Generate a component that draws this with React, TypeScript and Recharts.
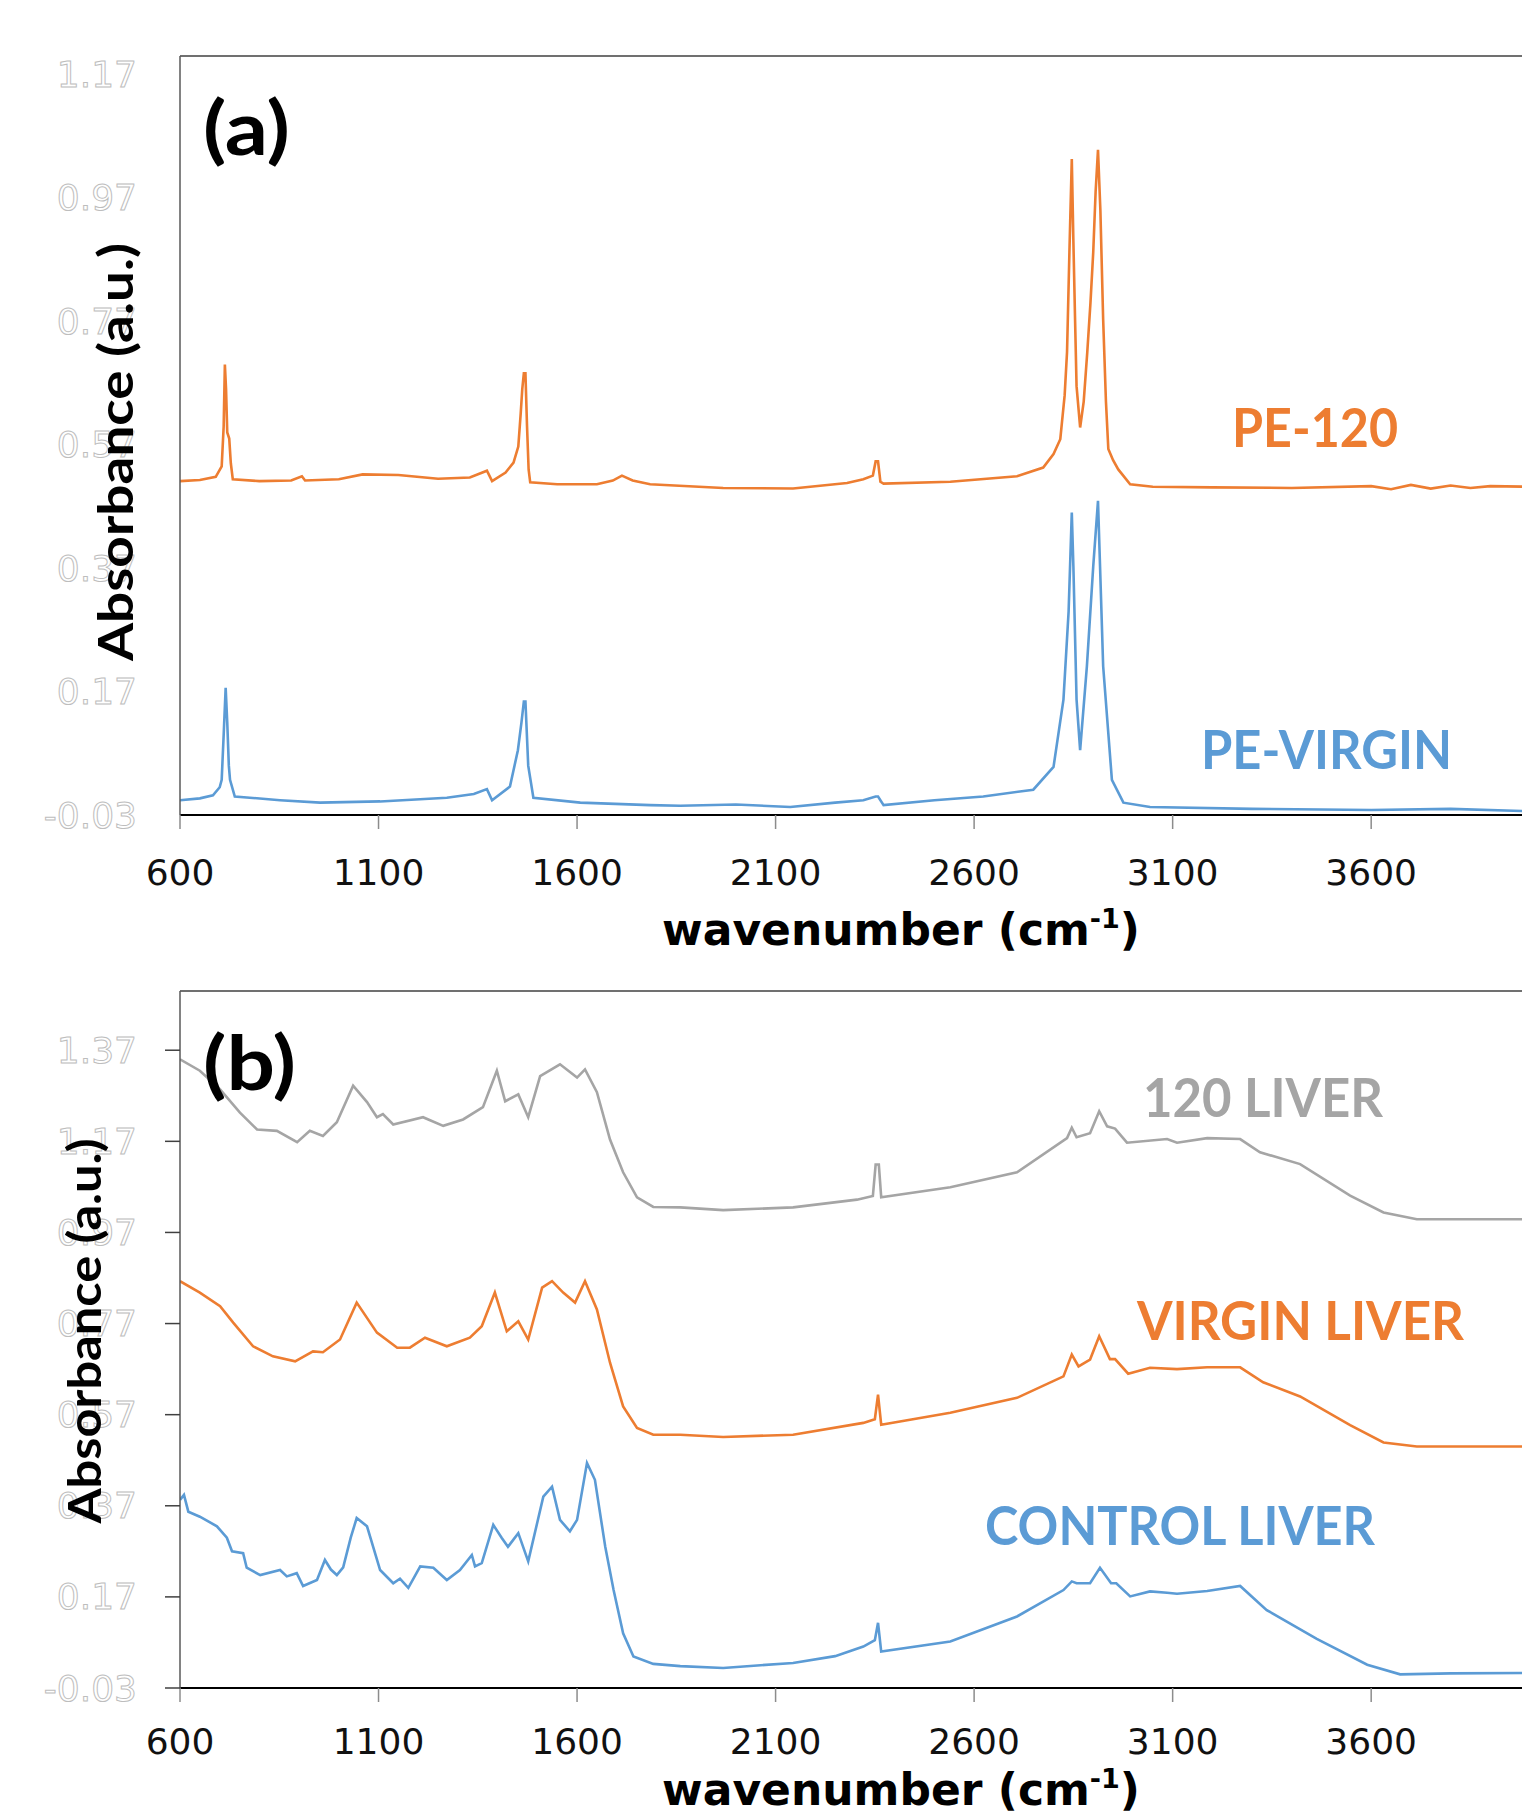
import { LineChart, Line, XAxis, YAxis, ReferenceLine } from "recharts"

// wavenumber (cm-1), absorbance pairs
const pe120 = [
  [600, 0.511], [650, 0.513], [690, 0.518], [705, 0.535], [710, 0.6], [713, 0.7], [716, 0.66], [719, 0.59],
  [724, 0.58], [728, 0.54], [733, 0.514], [800, 0.511], [880, 0.512], [907, 0.519], [915, 0.512], [1000, 0.514],
  [1060, 0.522], [1150, 0.521], [1250, 0.515], [1330, 0.517], [1373, 0.528], [1386, 0.511], [1420, 0.525],
  [1440, 0.541], [1452, 0.567], [1458, 0.62], [1462, 0.66], [1466, 0.686], [1470, 0.686], [1474, 0.6],
  [1478, 0.53], [1482, 0.509], [1550, 0.506], [1650, 0.506], [1690, 0.512], [1713, 0.52], [1740, 0.512],
  [1784, 0.506], [1968, 0.5], [2144, 0.499], [2280, 0.508], [2321, 0.514], [2345, 0.52], [2352, 0.543],
  [2358, 0.543], [2364, 0.51], [2372, 0.507], [2540, 0.51], [2708, 0.519], [2774, 0.533], [2800, 0.555],
  [2817, 0.579], [2828, 0.65], [2834, 0.72], [2840, 0.882], [2846, 1.033], [2850, 0.9], [2854, 0.78],
  [2858, 0.665], [2867, 0.598], [2876, 0.64], [2885, 0.72], [2893, 0.8], [2900, 0.882], [2906, 0.98],
  [2912, 1.048], [2918, 0.95], [2925, 0.773], [2932, 0.64], [2938, 0.563], [2950, 0.545], [2963, 0.53],
  [2993, 0.506], [3050, 0.502], [3200, 0.501], [3400, 0.5], [3600, 0.503], [3650, 0.498], [3700, 0.505],
  [3750, 0.499], [3800, 0.504], [3850, 0.5], [3900, 0.503], [4000, 0.502],
]

const peVirgin = [
  [600, -0.006], [650, -0.003], [683, 0.002], [700, 0.015], [705, 0.027], [710, 0.1], [715, 0.176], [719, 0.12],
  [723, 0.05], [726, 0.027], [738, 0.0], [852, -0.006], [953, -0.01], [1104, -0.008], [1272, -0.002],
  [1340, 0.004], [1373, 0.012], [1386, -0.006], [1431, 0.016], [1451, 0.075], [1460, 0.12], [1466, 0.154],
  [1470, 0.154], [1477, 0.05], [1490, -0.002], [1608, -0.01], [1784, -0.014], [1860, -0.015], [2000, -0.013],
  [2137, -0.017], [2250, -0.01], [2321, -0.006], [2352, 0.0], [2358, 0.0], [2372, -0.014], [2500, -0.006],
  [2623, 0.0], [2749, 0.011], [2800, 0.048], [2825, 0.157], [2838, 0.3], [2846, 0.46], [2850, 0.373],
  [2858, 0.157], [2867, 0.075], [2884, 0.211], [2900, 0.373], [2912, 0.479], [2925, 0.211], [2947, 0.027],
  [2976, -0.01], [3043, -0.017], [3300, -0.02], [3600, -0.022], [3800, -0.02], [4000, -0.024],
]

const liver120 = [
  [600, 1.35], [650, 1.325], [701, 1.284], [751, 1.233], [794, 1.196], [844, 1.193], [895, 1.168], [927, 1.193],
  [960, 1.182], [995, 1.212], [1036, 1.292], [1071, 1.256], [1096, 1.223], [1111, 1.23], [1137, 1.207],
  [1212, 1.223], [1263, 1.204], [1313, 1.218], [1363, 1.245], [1398, 1.325], [1419, 1.258], [1452, 1.273],
  [1477, 1.223], [1507, 1.313], [1557, 1.339], [1600, 1.31], [1620, 1.328], [1650, 1.278], [1683, 1.174],
  [1716, 1.102], [1751, 1.047], [1792, 1.026], [1860, 1.025], [1968, 1.019], [2144, 1.025], [2305, 1.042],
  [2345, 1.05], [2352, 1.119], [2360, 1.119], [2366, 1.047], [2540, 1.069], [2708, 1.102], [2834, 1.177],
  [2846, 1.2], [2858, 1.179], [2892, 1.188], [2915, 1.236], [2935, 1.203], [2955, 1.198], [2985, 1.167],
  [3086, 1.175], [3111, 1.167], [3187, 1.177], [3270, 1.175], [3320, 1.146], [3421, 1.12], [3547, 1.051],
  [3631, 1.014], [3715, 0.999], [4000, 0.999],
]

const liverVirgin = [
  [600, 0.863], [650, 0.838], [701, 0.808], [734, 0.772], [784, 0.72], [834, 0.698], [890, 0.687], [935, 0.709],
  [960, 0.707], [1003, 0.735], [1045, 0.816], [1096, 0.75], [1147, 0.717], [1179, 0.717], [1217, 0.739],
  [1272, 0.72], [1330, 0.739], [1360, 0.764], [1393, 0.838], [1423, 0.753], [1452, 0.775], [1477, 0.735],
  [1512, 0.849], [1537, 0.863], [1565, 0.838], [1595, 0.816], [1620, 0.863], [1650, 0.801], [1683, 0.684],
  [1716, 0.588], [1751, 0.541], [1792, 0.526], [1860, 0.526], [1968, 0.521], [2144, 0.526], [2321, 0.552],
  [2350, 0.56], [2358, 0.614], [2366, 0.548], [2540, 0.574], [2708, 0.607], [2825, 0.654], [2846, 0.702],
  [2863, 0.676], [2892, 0.691], [2915, 0.742], [2942, 0.692], [2955, 0.692], [2988, 0.66], [3043, 0.673],
  [3111, 0.67], [3187, 0.674], [3270, 0.674], [3328, 0.641], [3421, 0.61], [3547, 0.547], [3631, 0.509],
  [3715, 0.5], [4000, 0.5],
]

const liverControl = [
  [600, 0.383], [610, 0.394], [621, 0.357], [650, 0.346], [693, 0.325], [718, 0.3], [731, 0.27], [759, 0.266],
  [768, 0.234], [802, 0.218], [852, 0.229], [869, 0.215], [894, 0.222], [910, 0.194], [945, 0.207], [965, 0.251],
  [980, 0.23], [995, 0.218], [1011, 0.235], [1030, 0.3], [1045, 0.343], [1071, 0.325], [1104, 0.229],
  [1137, 0.2], [1154, 0.21], [1175, 0.19], [1205, 0.237], [1238, 0.234], [1272, 0.207], [1305, 0.229],
  [1335, 0.262], [1343, 0.237], [1360, 0.244], [1389, 0.328], [1410, 0.3], [1426, 0.28], [1452, 0.31],
  [1477, 0.248], [1515, 0.39], [1537, 0.412], [1557, 0.339], [1582, 0.314], [1600, 0.339], [1625, 0.464],
  [1645, 0.427], [1671, 0.28], [1692, 0.185], [1716, 0.09], [1742, 0.039], [1792, 0.023], [1860, 0.018],
  [1968, 0.014], [2144, 0.025], [2250, 0.04], [2321, 0.061], [2350, 0.075], [2358, 0.113], [2366, 0.05],
  [2540, 0.072], [2708, 0.127], [2825, 0.185], [2846, 0.204], [2858, 0.2], [2892, 0.2], [2917, 0.234],
  [2945, 0.2], [2958, 0.2], [2993, 0.171], [3043, 0.182], [3086, 0.179], [3111, 0.177], [3187, 0.183],
  [3270, 0.194], [3337, 0.141], [3463, 0.078], [3590, 0.021], [3673, 0.0], [3800, 0.002], [4000, 0.003],
]

const xTicks = [600, 1100, 1600, 2100, 2600, 3100, 3600]
const yTicksA = [-0.03, 0.17, 0.37, 0.57, 0.77, 0.97, 1.17]
const yTicksB = [-0.03, 0.17, 0.37, 0.57, 0.77, 0.97, 1.17, 1.37]

const ORANGE = "#ED7D31"
const BLUE = "#5B9BD5"
const GRAY = "#A5A5A5"

const toPts = (arr: number[][]) => arr.map(([x, y]) => ({ x, y }))

const OutlineTick = (props: any) => (
  <text
    x={137}
    y={props.y}
    textAnchor="end"
    dominantBaseline="central"
    fontFamily="DejaVu Sans"
    fontSize={36}
    fill="#ffffff"
    stroke="#bdbdbd"
    strokeWidth={1}
  >
    {Number(props.payload.value).toFixed(2)}
  </text>
)

const makeXTick = (dy: number) => (props: any) => (
  <text
    x={props.x}
    y={props.y + dy}
    textAnchor="middle"
    dominantBaseline="central"
    fontFamily="DejaVu Sans"
    fontSize={36}
    fill="#111"
  >
    {props.payload.value}
  </text>
)

const lineProps = { type: "linear" as const, dataKey: "y", dot: false, strokeWidth: 2.6, isAnimationActive: false }

const XTitle = ({ y }: { y: number }) => (
  <text x={901} y={y} textAnchor="middle" fontFamily="DejaVu Sans" fontWeight="bold" fontSize={44} fill="#000">
    wavenumber (cm
    <tspan fontSize={27} dy={-17}>-1</tspan>
    <tspan dy={17}>)</tspan>
  </text>
)

export default function App() {
  return (
    <div style={{ position: "absolute", left: 0, top: 0, width: 1522, height: 1817, overflow: "hidden", background: "#fff" }}>
      <div style={{ position: "absolute", left: 0, top: 0 }}>
        <LineChart width={1540} height={960} margin={{ top: 56, right: 10, bottom: 0, left: 0 }}>
          <XAxis
            type="number"
            dataKey="x"
            domain={[600, 4000]}
            ticks={xTicks}
            interval={0}
            allowDataOverflow
            height={145}
            tickSize={14}
            tickMargin={0}
            tickLine={{ stroke: "#8c8c8c", strokeWidth: 1.5 }}
            axisLine={{ stroke: "#000", strokeWidth: 2.2 }}
            tick={makeXTick(43)}
          />
          <YAxis
            type="number"
            domain={[-0.03, 1.2]}
            ticks={yTicksA}
            interval={0}
            allowDataOverflow
            width={180}
            tickLine={false}
            axisLine={{ stroke: "#595959", strokeWidth: 1.5 }}
            tick={OutlineTick}
          />
          <ReferenceLine y={1.2} stroke="#404040" strokeWidth={1.5} />
          <Line {...lineProps} data={toPts(pe120)} stroke={ORANGE} />
          <Line {...lineProps} data={toPts(peVirgin)} stroke={BLUE} />
        </LineChart>
      </div>
      <div style={{ position: "absolute", left: 0, top: 940 }}>
        <LineChart width={1540} height={877} margin={{ top: 51, right: 10, bottom: 0, left: 0 }}>
          <XAxis
            type="number"
            dataKey="x"
            domain={[600, 4000]}
            ticks={xTicks}
            interval={0}
            allowDataOverflow
            height={129}
            tickSize={14}
            tickMargin={0}
            tickLine={{ stroke: "#8c8c8c", strokeWidth: 1.5 }}
            axisLine={{ stroke: "#000", strokeWidth: 2.2 }}
            tick={makeXTick(39)}
          />
          <YAxis
            type="number"
            domain={[-0.03, 1.5]}
            ticks={yTicksB}
            interval={0}
            allowDataOverflow
            width={180}
            tickSize={15}
            tickLine={{ stroke: "#404040", strokeWidth: 1.5 }}
            axisLine={{ stroke: "#595959", strokeWidth: 1.5 }}
            tick={OutlineTick}
          />
          <ReferenceLine y={1.5} stroke="#404040" strokeWidth={1.5} />
          <Line {...lineProps} data={toPts(liver120)} stroke={GRAY} />
          <Line {...lineProps} data={toPts(liverVirgin)} stroke={ORANGE} />
          <Line {...lineProps} data={toPts(liverControl)} stroke={BLUE} />
        </LineChart>
      </div>
      <svg width={1522} height={1817} style={{ position: "absolute", left: 0, top: 0, pointerEvents: "none" }}>
        <text x={203} y={155} fontFamily="Lato" fontWeight="bold" fontSize={74} fill="#000" textLength={87} lengthAdjust="spacingAndGlyphs">(a)</text>
        <text x={203} y={1090} fontFamily="Lato" fontWeight="bold" fontSize={74} fill="#000" textLength={93} lengthAdjust="spacingAndGlyphs">(b)</text>
        <text transform="translate(114,452) rotate(-90)" textAnchor="middle" dominantBaseline="central" fontFamily="Lato" fontWeight="bold" fontSize={48} fill="#000" textLength={418} lengthAdjust="spacingAndGlyphs">Absorbance (a.u.)</text>
        <text transform="translate(83,1331) rotate(-90)" textAnchor="middle" dominantBaseline="central" fontFamily="Lato" fontWeight="bold" fontSize={46} fill="#000" textLength={385} lengthAdjust="spacingAndGlyphs">Absorbance (a.u.)</text>
        <XTitle y={945} />
        <XTitle y={1805} />
        <text x={1232} y={447} fontFamily="Lato" fontWeight="bold" fontSize={54} fill={ORANGE} textLength={166} lengthAdjust="spacingAndGlyphs">PE-120</text>
        <text x={1201} y={769} fontFamily="Lato" fontWeight="bold" fontSize={54} fill={BLUE} textLength={251} lengthAdjust="spacingAndGlyphs">PE-VIRGIN</text>
        <text x={1143} y={1117} fontFamily="Lato" fontWeight="bold" fontSize={54} fill={GRAY} textLength={240} lengthAdjust="spacingAndGlyphs">120 LIVER</text>
        <text x={1137} y={1340} fontFamily="Lato" fontWeight="bold" fontSize={54} fill={ORANGE} textLength={327} lengthAdjust="spacingAndGlyphs">VIRGIN LIVER</text>
        <text x={985} y={1545} fontFamily="Lato" fontWeight="bold" fontSize={54} fill={BLUE} textLength={390} lengthAdjust="spacingAndGlyphs">CONTROL LIVER</text>
      </svg>
    </div>
  )
}
